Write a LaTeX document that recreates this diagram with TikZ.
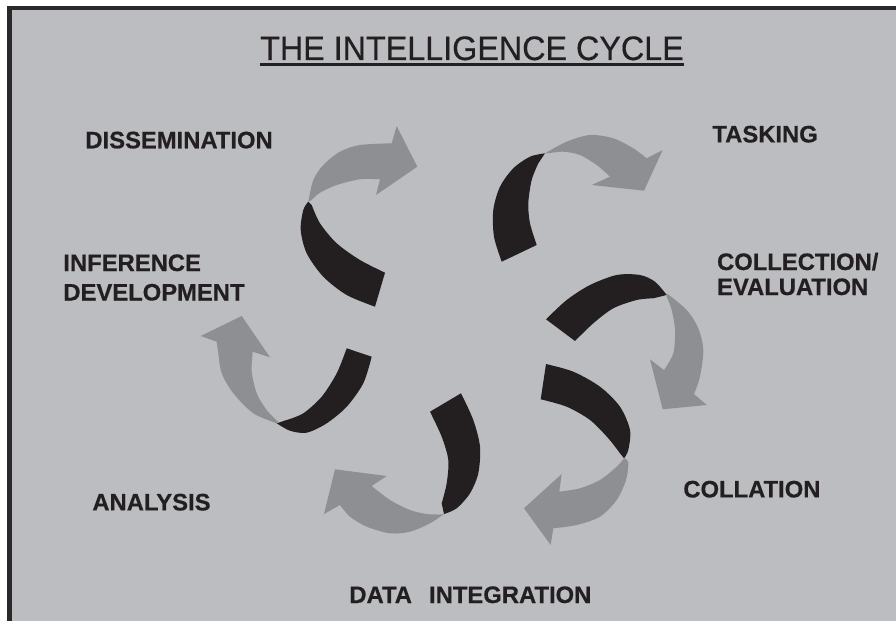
\documentclass[tikz,border=0pt]{standalone}
\usepackage{fontspec}
\setmainfont{Liberation Sans}
\newfontfamily\lblfont[FakeBold=0.6]{Liberation Sans Bold}
\newfontfamily\ttlfont[FakeBold=0.4,FakeStretch=0.95]{Liberation Sans}
\definecolor{bgc}{HTML}{BCBDC1}
\definecolor{blk}{HTML}{231F20}
\definecolor{gry}{HTML}{8E8F93}
\definecolor{frm}{HTML}{2A2A2A}
\tikzset{
  lbl/.style={font=\lblfont\fontsize{11.9}{12.5}\selectfont, inner sep=0pt, anchor=base west, text=blk},
  back/.style={fill=blk},
  front/.style={fill=gry},
}
\begin{document}
\begin{tikzpicture}[x=0.5pt,y=-0.5pt]
\useasboundingbox (0,0) rectangle (896,621);
\clip (0,0) rectangle (896,621);
\fill[white] (0,0) rectangle (896,621);
\draw[frm, line width=2.25pt, fill=bgc] (9.5,8) rectangle (920,650);

% title
\node[font=\ttlfont\fontsize{17}{18}\selectfont, inner sep=0pt, anchor=base, text=blk] (title) at (472,60) {THE INTELLIGENCE CYCLE};
\draw[blk, line width=1.5pt] ([yshift=-2.2pt]title.base west) -- ([yshift=-2.2pt]title.base east);

% labels
\node[lbl] (dis) at (85,148.3) {DISSEMINATION};
\node[lbl] (task) at (712,142.4) {TASKING};
\node[lbl] (coll1) at (716.7,270) {COLLECTION/};
\node[lbl] (coll2) at (716.7,295) {EVALUATION};
\node[lbl] (inf1) at (63,271) {INFERENCE};
\node[lbl] (inf2) at (63,300.5) {DEVELOPMENT};
\node[lbl] (ana) at (92,510.4) {ANALYSIS};
\node[lbl] (colla) at (683,497.4) {COLLATION};
\node[lbl] (data) at (349,603) {DATA\ \ \,INTEGRATION};

% arrow A (dissemination -> tasking)
\fill[back] plot[smooth] coordinates {(375,306.7) (346.7,295) (323.3,276.7) (306.7,253.3) (300.7,230) (303.3,210) (308.3,201.7)}
  -- plot[smooth] coordinates {(311.7,205) (320,223.3) (336.7,243.3) (360,260) (385,272.7)} -- cycle;
\fill[front] plot[smooth] coordinates {(308.3,201.7) (313.3,180) (323.3,165) (340,151.7) (360,145) (391.7,143.3)}
  -- (396.7,126) -- (417.3,166.7) -- (376,195)
  -- plot[smooth] coordinates {(380,179.3) (360,179.3) (336.7,185) (320,192.7) (311.7,200)} -- cycle;

% arrow B (tasking -> collection)
\fill[back] plot[smooth] coordinates {(501.7,261.7) (494,236.7) (493.3,210) (500,186.7) (513.3,168.3) (530,156.7) (545,153.3)}
  -- plot[smooth] coordinates {(538.3,163.3) (531.7,180) (528.3,203.3) (530,223.3) (536.7,245)} -- cycle;
\fill[front] plot[smooth] coordinates {(545,153.3) (566.7,141.7) (590,135) (613.3,138.3) (633.3,148.3) (646.7,158.3)}
  -- (662.7,150) -- (644,190.7) -- (591.7,185)
  -- plot[smooth] coordinates {(610,176.7) (596.7,165) (580,155) (563.3,151.7) (548.3,153.3)} -- cycle;

% arrow C (collection -> collation)
\fill[back] plot[smooth] coordinates {(546,319.3) (566.7,300) (590,285) (616.7,275) (640,275) (655,281.7) (666.7,295)}
  -- plot[smooth] coordinates {(653.3,298.3) (636.7,300) (613.3,308.3) (593.3,323.3) (575,341)} -- cycle;
\fill[front] plot[smooth] coordinates {(666.7,293.3) (686.7,310) (698.3,328.3) (703.3,350) (700,376.7) (694,394)}
  -- (706.7,405) -- (662.7,409.3) -- (650,359.3)
  -- plot[smooth] coordinates {(664,370) (673.3,353.3) (675,330) (671.7,310) (666.7,296.7)} -- cycle;

% arrow D (collation -> data integration)
\fill[back] plot[smooth] coordinates {(546,364) (573.3,371.7) (600,386.7) (620,406.7) (630,430) (628.3,450) (624,458.3)}
  -- plot[smooth] coordinates {(620,453.3) (608.3,438.3) (590,420) (566.7,406.7) (540.7,399.3)} -- cycle;
\fill[front] plot[smooth] coordinates {(624,458.3) (628.3,462) (626,480) (616.7,500) (600,516.7) (576.7,525) (553.3,528.3)}
  -- (550.7,545) -- (524,508.3) -- (561.7,474)
  -- plot[smooth] coordinates {(559.3,491.7) (580,488.3) (600,480) (616.7,466.7) (623.3,459.3)} -- cycle;

% arrow E (data integration -> analysis)
\fill[back] plot[smooth] coordinates {(461,393.3) (473.3,420) (480,446.7) (478.3,473.3) (470,493.3) (456.7,508.3) (444,514)}
  -- plot[smooth] coordinates {(441.7,503.3) (446.7,483.3) (448.3,460) (441.7,436.7) (430,411.7)} -- cycle;
\fill[front] plot[smooth] coordinates {(444,514) (430,523.3) (410,531.7) (390,533.3) (366.7,526.7) (350,516.7) (340,505)}
  -- (324,514) -- (335,469.3) -- (386.7,476)
  -- plot[smooth] coordinates {(371.7,486) (390,500) (410,510) (426.7,514) (440,514.5)} -- cycle;

% arrow F (analysis -> inference development)
\fill[back] plot[smooth] coordinates {(371.7,356.7) (363.3,383.3) (346.7,406.7) (326.7,423.3) (306.7,432.7) (290,430.7) (276.7,423.3)}
  -- plot[smooth] coordinates {(286.7,420) (303.3,413.3) (321.7,396.7) (336.7,373.3) (346.7,348.3)} -- cycle;
\fill[front] plot[smooth] coordinates {(276.7,423.3) (253.3,413.3) (233.3,393.3) (221.7,373.3) (218.3,353.3) (216.7,341.7)}
  -- (200.7,336) -- (241.7,316) -- (270,357.3)
  -- plot[smooth] coordinates {(252.7,351.7) (251.7,371.7) (256.7,393.3) (266.7,410) (278,421.7)} -- cycle;
\end{tikzpicture}
\end{document}
